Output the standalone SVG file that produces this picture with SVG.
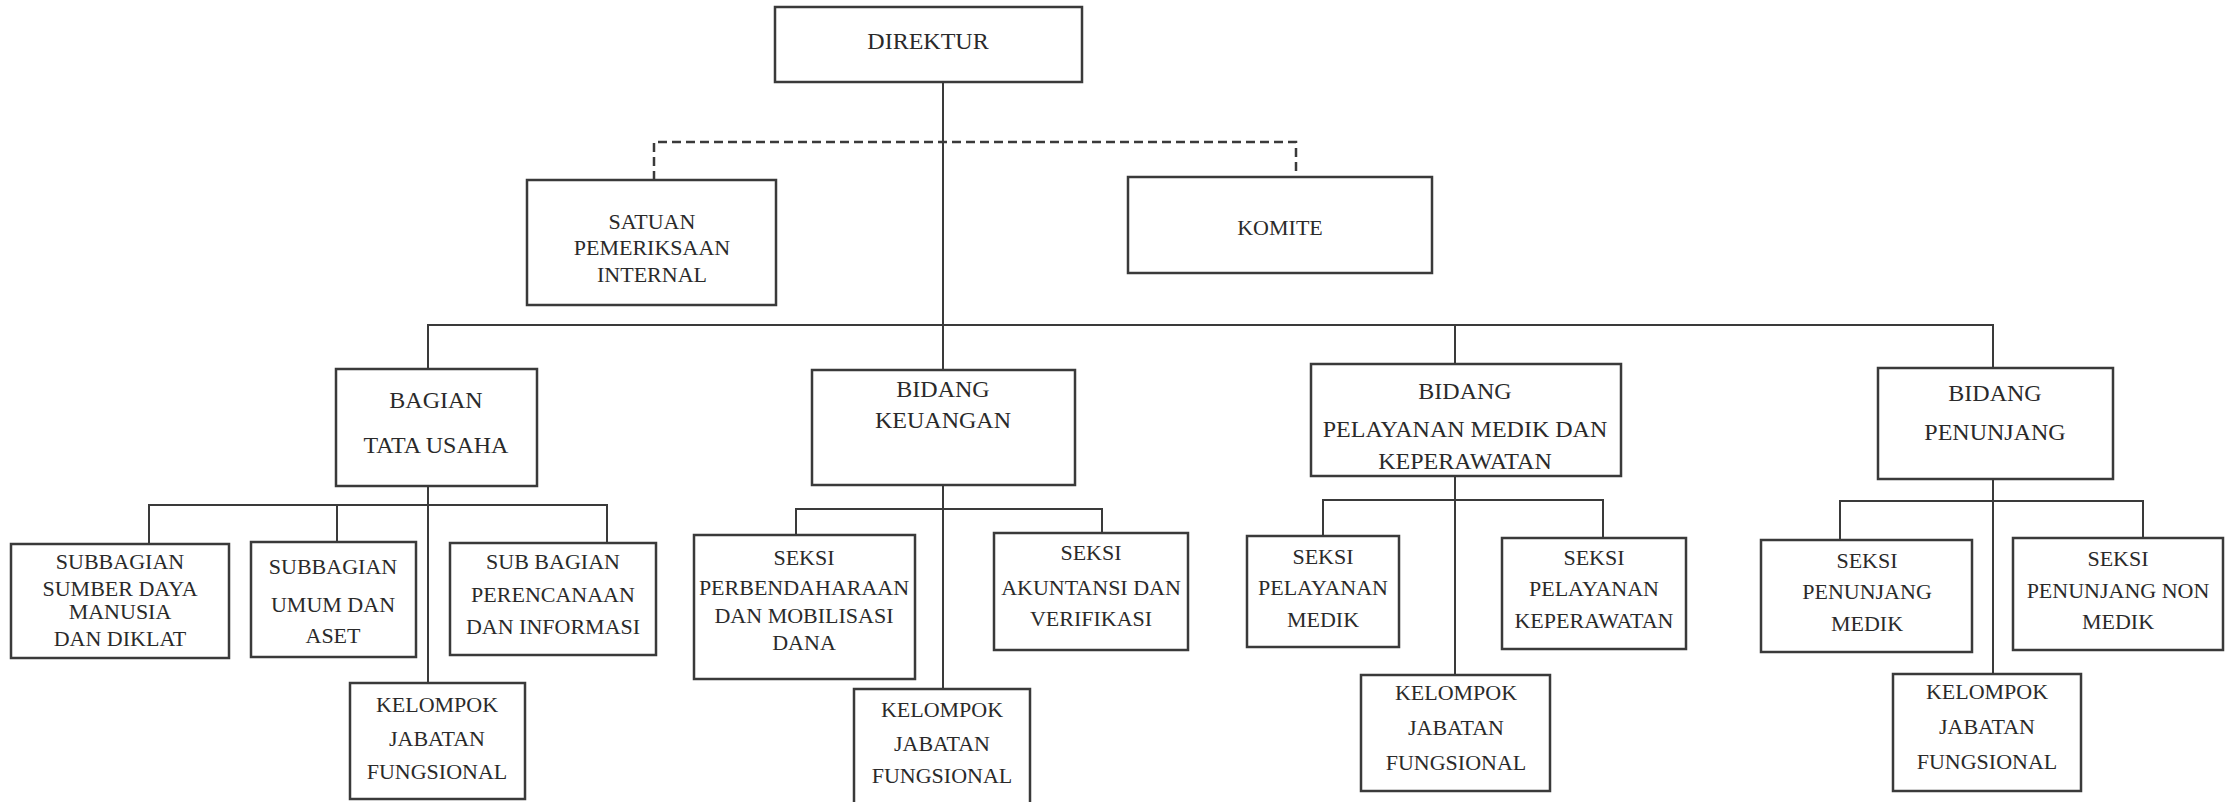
<svg xmlns="http://www.w3.org/2000/svg" width="2235" height="802" viewBox="0 0 2235 802">
<style>
.box{fill:none;stroke:#3a3a3a;stroke-width:2.5}
.ln{fill:none;stroke:#3a3a3a;stroke-width:2}
.dash{fill:none;stroke:#3a3a3a;stroke-width:2.5;stroke-dasharray:9 5}
text{font-family:"Liberation Serif","DejaVu Serif",serif;fill:#2a2a2a;text-anchor:middle}
.m{font-size:24px}
.s{font-size:22px}
</style>
<rect x="0" y="0" width="2235" height="802" fill="#ffffff"/>
<g id="connectors">
<path class="ln" d="M943 82 V370"/>
<path class="dash" d="M654 180 V142 H1296 V177"/>
<path class="ln" d="M428 369 V325 H1993 V368"/>
<path class="ln" d="M1455 325 V364"/>
<path class="ln" d="M428 486 V683"/>
<path class="ln" d="M149 544 V505 H607 V542"/>
<path class="ln" d="M337 505 V542"/>
<path class="ln" d="M943 485 V689"/>
<path class="ln" d="M796 535 V509 H1102 V533"/>
<path class="ln" d="M1455 476 V675"/>
<path class="ln" d="M1323 536 V500 H1603 V538"/>
<path class="ln" d="M1993 479 V674"/>
<path class="ln" d="M1840 540 V501 H2143 V538"/>
</g>
<g id="direktur"><rect class="box" x="775" y="7" width="307" height="75"/><text class="m" x="928" y="49">DIREKTUR</text></g>
<g id="spi"><rect class="box" x="527" y="180" width="249" height="125"/><text class="s" x="652" y="229">SATUAN</text><text class="s" x="652" y="255">PEMERIKSAAN</text><text class="s" x="652" y="282">INTERNAL</text></g>
<g id="komite"><rect class="box" x="1128" y="177" width="304" height="96"/><text class="s" x="1280" y="235">KOMITE</text></g>
<g id="tatausaha"><rect class="box" x="336" y="369" width="201" height="117"/><text class="m" x="436" y="408">BAGIAN</text><text class="m" x="436" y="453">TATA USAHA</text></g>
<g id="keuangan"><rect class="box" x="812" y="370" width="263" height="115"/><text class="m" x="943" y="397">BIDANG</text><text class="m" x="943" y="428">KEUANGAN</text></g>
<g id="pelayanan"><rect class="box" x="1311" y="364" width="310" height="112"/><text class="m" x="1465" y="399">BIDANG</text><text class="m" x="1465" y="437">PELAYANAN MEDIK DAN</text><text class="m" x="1465" y="469">KEPERAWATAN</text></g>
<g id="penunjang"><rect class="box" x="1878" y="368" width="235" height="111"/><text class="m" x="1995" y="401">BIDANG</text><text class="m" x="1995" y="440">PENUNJANG</text></g>
<g id="sdm"><rect class="box" x="11" y="544" width="218" height="114"/><text class="s" x="120" y="569">SUBBAGIAN</text><text class="s" x="120" y="596">SUMBER DAYA</text><text class="s" x="120" y="619">MANUSIA</text><text class="s" x="120" y="646">DAN DIKLAT</text></g>
<g id="umum"><rect class="box" x="251" y="542" width="165" height="115"/><text class="s" x="333" y="574">SUBBAGIAN</text><text class="s" x="333" y="612">UMUM DAN</text><text class="s" x="333" y="643">ASET</text></g>
<g id="perencanaan"><rect class="box" x="450" y="543" width="206" height="112"/><text class="s" x="553" y="569">SUB BAGIAN</text><text class="s" x="553" y="602">PERENCANAAN</text><text class="s" x="553" y="634">DAN INFORMASI</text></g>
<g id="jf1"><rect class="box" x="350" y="683" width="175" height="116"/><text class="s" x="437" y="712">KELOMPOK</text><text class="s" x="437" y="746">JABATAN</text><text class="s" x="437" y="779">FUNGSIONAL</text></g>
<g id="perbendaharaan"><rect class="box" x="694" y="535" width="221" height="144"/><text class="s" x="804" y="565">SEKSI</text><text class="s" x="804" y="595">PERBENDAHARAAN</text><text class="s" x="804" y="623">DAN MOBILISASI</text><text class="s" x="804" y="650">DANA</text></g>
<g id="akuntansi"><rect class="box" x="994" y="533" width="194" height="117"/><text class="s" x="1091" y="560">SEKSI</text><text class="s" x="1091" y="595">AKUNTANSI DAN</text><text class="s" x="1091" y="626">VERIFIKASI</text></g>
<g id="jf2"><rect class="box" x="854" y="689" width="176" height="116"/><text class="s" x="942" y="717">KELOMPOK</text><text class="s" x="942" y="751">JABATAN</text><text class="s" x="942" y="783">FUNGSIONAL</text></g>
<g id="pelmedik"><rect class="box" x="1247" y="536" width="152" height="111"/><text class="s" x="1323" y="564">SEKSI</text><text class="s" x="1323" y="595">PELAYANAN</text><text class="s" x="1323" y="627">MEDIK</text></g>
<g id="pelkep"><rect class="box" x="1502" y="538" width="184" height="111"/><text class="s" x="1594" y="565">SEKSI</text><text class="s" x="1594" y="596">PELAYANAN</text><text class="s" x="1594" y="628">KEPERAWATAN</text></g>
<g id="jf3"><rect class="box" x="1361" y="675" width="189" height="116"/><text class="s" x="1456" y="700">KELOMPOK</text><text class="s" x="1456" y="735">JABATAN</text><text class="s" x="1456" y="770">FUNGSIONAL</text></g>
<g id="penmedik"><rect class="box" x="1761" y="540" width="211" height="112"/><text class="s" x="1867" y="568">SEKSI</text><text class="s" x="1867" y="599">PENUNJANG</text><text class="s" x="1867" y="631">MEDIK</text></g>
<g id="pennonmedik"><rect class="box" x="2013" y="538" width="210" height="112"/><text class="s" x="2118" y="566">SEKSI</text><text class="s" x="2118" y="598">PENUNJANG NON</text><text class="s" x="2118" y="629">MEDIK</text></g>
<g id="jf4"><rect class="box" x="1893" y="674" width="188" height="117"/><text class="s" x="1987" y="699">KELOMPOK</text><text class="s" x="1987" y="734">JABATAN</text><text class="s" x="1987" y="769">FUNGSIONAL</text></g>
</svg>
